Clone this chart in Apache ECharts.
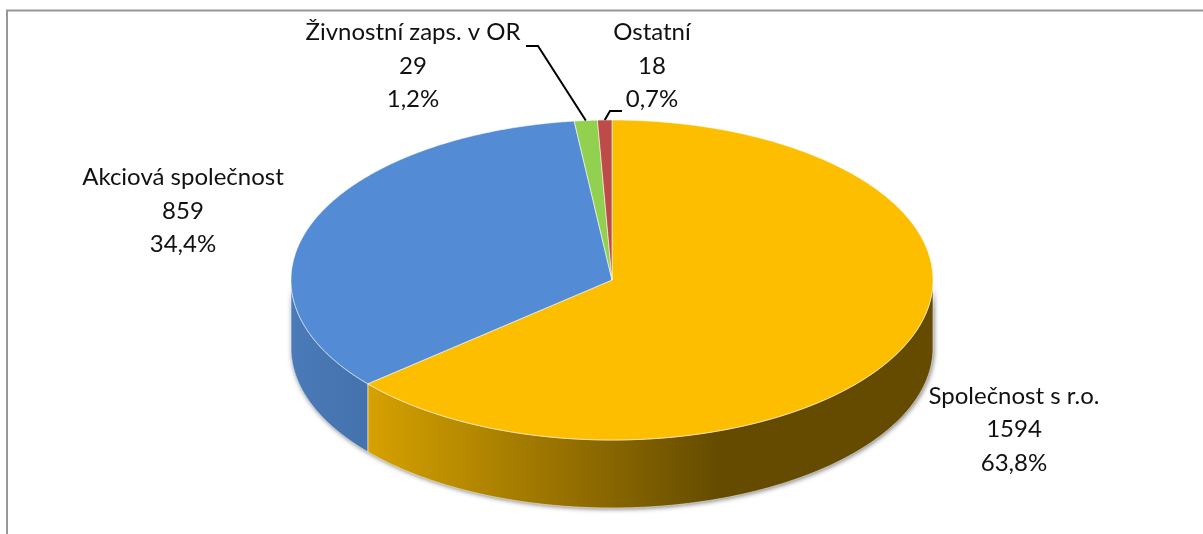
<!DOCTYPE html>
<html>
<head>
<meta charset="utf-8">
<title>Právní forma</title>
<script src="https://cdn.jsdelivr.net/npm/echarts@6/dist/echarts.min.js"></script>
<style>
  html, body { margin: 0; padding: 0; background: #fff; }
  #main { width: 1203px; height: 534px; }
</style>
</head>
<body>
<div id="main"></div>
<script>
// data
const names = ['Společnost s r.o.', 'Akciová společnost', 'Živnostní zaps. v OR', 'Ostatní'];
const counts = [1594, 859, 29, 18];

// colours
const topColors = ['#fdbe00', '#538cd5', '#92d050', '#be4b48'];
const wallStops = [
  [[368, '#d6a100'], [720, '#644b00']],
  [[291, '#4a7ab8'], [368, '#4472ad']],
  [[0, '#7aae42'], [1, '#7aae42']],
  [[0, '#9e3e3b'], [1, '#9e3e3b']]
];

// pie geometry on the page
const cx = 612, cy = 280, rx = 321, ry = 160, depth = 68;

// where each label sits, and the bend of its leader line (if it has one)
const labelPos = [[1014, 379.5], [183, 161], [413, 16], [652, 16]];
const leaders = [null, null, [[526, 46], [538, 46]], [[622, 111], [610, 111]]];

const total = counts.reduce((a, b) => a + b, 0);

// angle in degrees clockwise from 12 o'clock
function rim(deg, dy) {
  const r = deg * Math.PI / 180;
  return [cx + rx * Math.sin(r), cy - ry * Math.cos(r) + (dy || 0)];
}

function arc(from, to, dy) {
  const pts = [];
  const n = Math.max(2, Math.ceil((to - from) * 2));
  for (let i = 0; i <= n; i++) pts.push(rim(from + (to - from) * i / n, dy));
  return pts;
}

function labelText(i) {
  const pct = (counts[i] / total * 100).toFixed(1).replace('.', ',');
  return names[i] + '\n' + counts[i] + '\n' + pct + '%';
}

function renderSlice(params, api) {
  const i = params.dataIndex;
  const before = counts.slice(0, i).reduce((a, b) => a + b, 0);
  const a0 = before / total * 360;
  const a1 = (before + api.value(0)) / total * 360;
  const children = [];

  // side wall, only the part facing the viewer
  const w0 = Math.max(a0, 90), w1 = Math.min(a1, 270);
  if (w1 > w0) {
    const wallPts = arc(w0, w1, 0).concat(arc(w0, w1, depth).reverse());
    const s = wallStops[i];
    const fill = new echarts.graphic.LinearGradient(s[0][0], 0, s[1][0], 0, [
      { offset: 0, color: s[0][1] },
      { offset: 1, color: s[1][1] }
    ], true);
    children.push({
      type: 'polygon', z2: 1,
      shape: { points: wallPts },
      style: { fill: '#888', shadowBlur: 5, shadowColor: 'rgba(0,0,0,0.55)', shadowOffsetX: 1, shadowOffsetY: 1 }
    });
    children.push({
      type: 'polygon', z2: 2,
      shape: { points: wallPts },
      style: { fill: fill, stroke: 'rgba(255,255,255,0.55)', lineWidth: 1 }
    });
  }

  // top face
  children.push({
    type: 'polygon', z2: 3,
    shape: { points: [[cx, cy]].concat(arc(a0, a1, 0)) },
    style: { fill: topColors[i], stroke: 'rgba(255,255,255,0.55)', lineWidth: 1 }
  });

  // leader line for the thin slices
  if (leaders[i]) {
    children.push({
      type: 'polyline', z2: 4,
      shape: { points: leaders[i].concat([rim((a0 + a1) / 2, 0)]) },
      style: { fill: null, stroke: '#000', lineWidth: 2 }
    });
  }

  children.push({
    type: 'text', z2: 5,
    style: {
      text: labelText(i),
      x: labelPos[i][0], y: labelPos[i][1],
      align: 'center', verticalAlign: 'top',
      fontFamily: 'Lato', fontSize: 24, lineHeight: 33.5,
      fill: '#111'
    }
  });

  return { type: 'group', children: children };
}

const chart = echarts.init(document.getElementById('main'));
chart.setOption({
  animation: false,
  backgroundColor: '#fff',
  graphic: [
    {
      type: 'polyline', silent: true,
      shape: { points: [[7, 534], [7, 10.5], [1203, 10.5]] },
      style: { fill: null, stroke: '#979797', lineWidth: 2 }
    }
  ],
  series: [
    {
      type: 'custom',
      coordinateSystem: 'none',
      renderItem: renderSlice,
      data: counts.map((v, i) => ({ name: names[i], value: [v] }))
    }
  ]
});
</script>
</body>
</html>
